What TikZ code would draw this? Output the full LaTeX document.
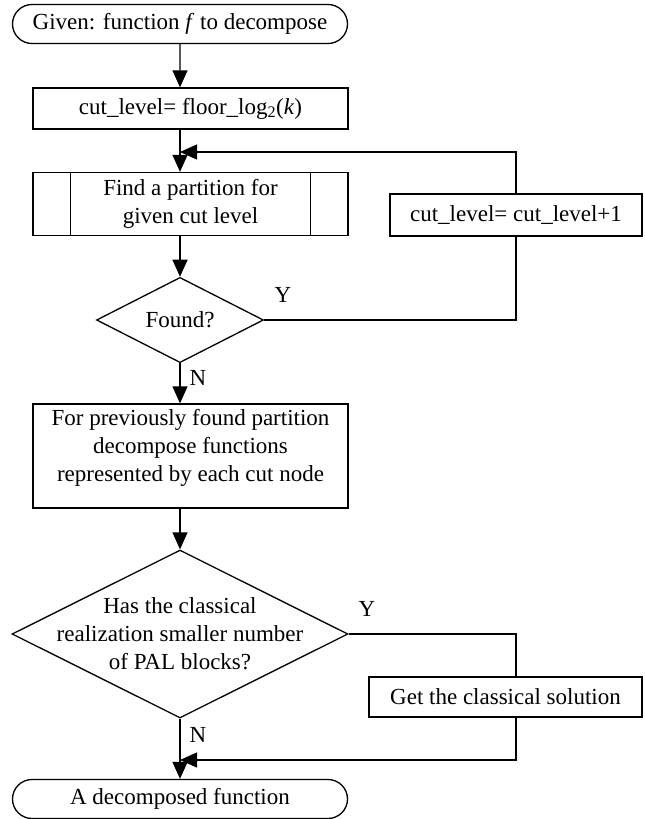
\documentclass[tikz,border=0pt]{standalone}
\usepackage{fontspec}
\setmainfont{Liberation Serif}
\usetikzlibrary{arrows.meta, shapes.geometric, shapes.misc}

\begin{document}
\begin{tikzpicture}[->, >={Triangle[length=17pt,width=15pt]}, line width=1.3pt, x=1pt, y=-1pt,
    font=\fontsize{23}{28}\selectfont]
    \tikzstyle{terminal}=[rounded rectangle, draw, minimum width=335pt, minimum height=39pt, inner sep=0pt]
    \tikzstyle{process}=[rectangle, draw, align=center, inner sep=0pt, minimum width=315pt]
    \tikzstyle{decision}=[diamond, draw, inner sep=0pt]

    \useasboundingbox (0,0) rectangle (645,819);

    \node[terminal] (start) at (180,24) {Given: function \textit{f} to decompose};
    \node[process, minimum height=41pt] (init) at (190.5,108.5) {cut\_level= floor\_log\textsubscript{2}(\textit{k})};
    \node[process, minimum height=63pt] (find) at (190.5,204) {Find a partition for\\given cut level};
    \foreach \side/\off in {west/38, east/-38}
        \draw[-] ([xshift=\off pt]find.north \side) -- ([xshift=\off pt]find.south \side);
    \node[process, minimum width=252pt, minimum height=42pt] (cl1) at (516,215) {cut\_level= cut\_level+1};
    \node[decision, minimum width=167pt, minimum height=83pt] (found) at (180,320) {Found?};
    \node[process, minimum height=104pt, text depth=21pt] (dec) at (190.5,456)
        {For previously found partition\\decompose functions\\represented by each cut node};
    \node[decision, minimum width=336pt, minimum height=168pt] (cls) at (180,634) {};
    \node[align=center] (clstext) at (cls) {Has the classical\\realization smaller number\\of PAL blocks?};
    \node[process, minimum width=273pt, minimum height=40pt] (get) at (505.5,697) {Get the classical solution};
    \node[terminal] (finish) at (180,799) {A decomposed function};

    \node (y1) at (283,295) {Y};
    \node (n1) at (198,378) {N};
    \node (y2) at (367,609) {Y};
    \node (n2) at (198,735) {N};

    \coordinate (j1) at (180,152);
    \coordinate (j2) at (180,760);

    \draw (start) -- (init.north -| start);
    \draw (init.south -| start) -- (find.north -| start);
    \draw (find.south -| start) -- (found);
    \draw[-] (found) -- (found -| cl1) -- (cl1);
    \draw (cl1.north) |- (j1);
    \draw (found.south) -- (found.south |- dec.north);
    \draw (dec.south -| start) -- (cls.north);
    \draw[-] (cls.east) -| (cl1 |- get.north);
    \draw (cl1 |- get.south) |- (j2);
    \draw (cls.south) -- (finish.north);
\end{tikzpicture}
\end{document}
